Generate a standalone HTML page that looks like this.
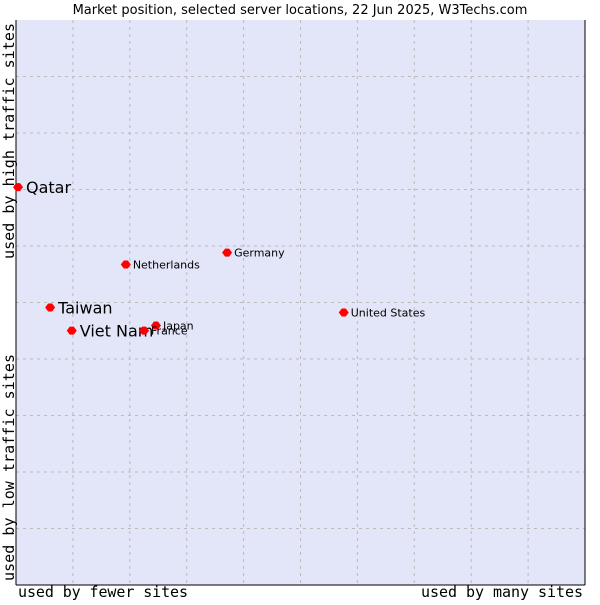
<!DOCTYPE html>
<html><head><meta charset="utf-8"><style>
body{margin:0;background:#fff;}
svg text{font-family:"DejaVu Sans Mono","Liberation Mono",monospace;}
</style></head><body>
<svg id="chart" width="600" height="600">
<text x="300" y="14" text-anchor="middle" font-size="13" style="font-family:'DejaVu Sans',sans-serif">Market position, selected server locations, 22 Jun 2025, W3Techs.com</text>
<rect x="16" y="20" width="569" height="565" fill="#e3e5f8"/>
<g id="grid"></g>
<line x1="16" y1="20" x2="16" y2="585" stroke="#000"/>
<line x1="16" y1="585" x2="585" y2="585" stroke="#000"/>
<line x1="585" y1="20" x2="585" y2="585" stroke="#000"/>
<text x="18" y="597" font-size="15" textLength="170">used by fewer sites</text>
<text x="421" y="597" font-size="15" textLength="162">used by many sites</text>
<text transform="translate(14,259) rotate(-90)" font-size="15" textLength="236">used by high traffic sites</text>
<text transform="translate(14,581) rotate(-90)" font-size="15" textLength="227">used by low traffic sites</text>
<g id="points"></g>
</svg>
<script>
const countries=["Qatar","Taiwan","Viet Nam","Netherlands","Germany","Japan","France","United States"];
const xValues=[0.35,6.0,9.8,19.3,37.1,24.6,22.5,57.6];
const yValues=[70.6,49.3,45.2,56.9,59.0,46.1,45.2,48.4];
const highlighted=[true,true,true,false,false,false,false,false];
const NS="http://www.w3.org/2000/svg";
const X=v=>16+v*5.69, Y=v=>586-v*5.65;
const grid=document.getElementById('grid');
for(let i=1;i<10;i++){
 const a=document.createElementNS(NS,'line');
 a.setAttribute('x1',16+i*56.9);a.setAttribute('x2',16+i*56.9);a.setAttribute('y1',20);a.setAttribute('y2',585);
 a.setAttribute('stroke','#bbb');a.setAttribute('stroke-dasharray','3,4');
 
 
 grid.appendChild(a);
 const b=document.createElementNS(NS,'line');
 b.setAttribute('y1',585-i*56.5);b.setAttribute('y2',585-i*56.5);b.setAttribute('x1',16);b.setAttribute('x2',585);
 b.setAttribute('stroke','#bbb');b.setAttribute('stroke-dasharray','3,4');
 
 
 grid.appendChild(b);
}
const pts=document.getElementById('points');
countries.forEach((c,i)=>{
 const x=X(xValues[i]),y=Y(yValues[i]);
 const d=document.createElementNS(NS,'path');
 d.setAttribute('d',`M${x-5},${y}L${x-2},${y-4}L${x+2},${y-4}L${x+5},${y}L${x+2},${y+4}L${x-2},${y+4}Z`);
 d.setAttribute('fill','#f00');
 
 
 pts.appendChild(d);
 const t=document.createElementNS(NS,'text');
 const big=highlighted[i];
 t.setAttribute('x',x+(big?8:7));t.setAttribute('y',y+(big?6:4));
 t.setAttribute('font-size',big?16:11);
 t.setAttribute('style',"font-family:'DejaVu Sans',sans-serif");
 t.textContent=c;
 
 
 pts.appendChild(t);
});
</script>
</body></html>
